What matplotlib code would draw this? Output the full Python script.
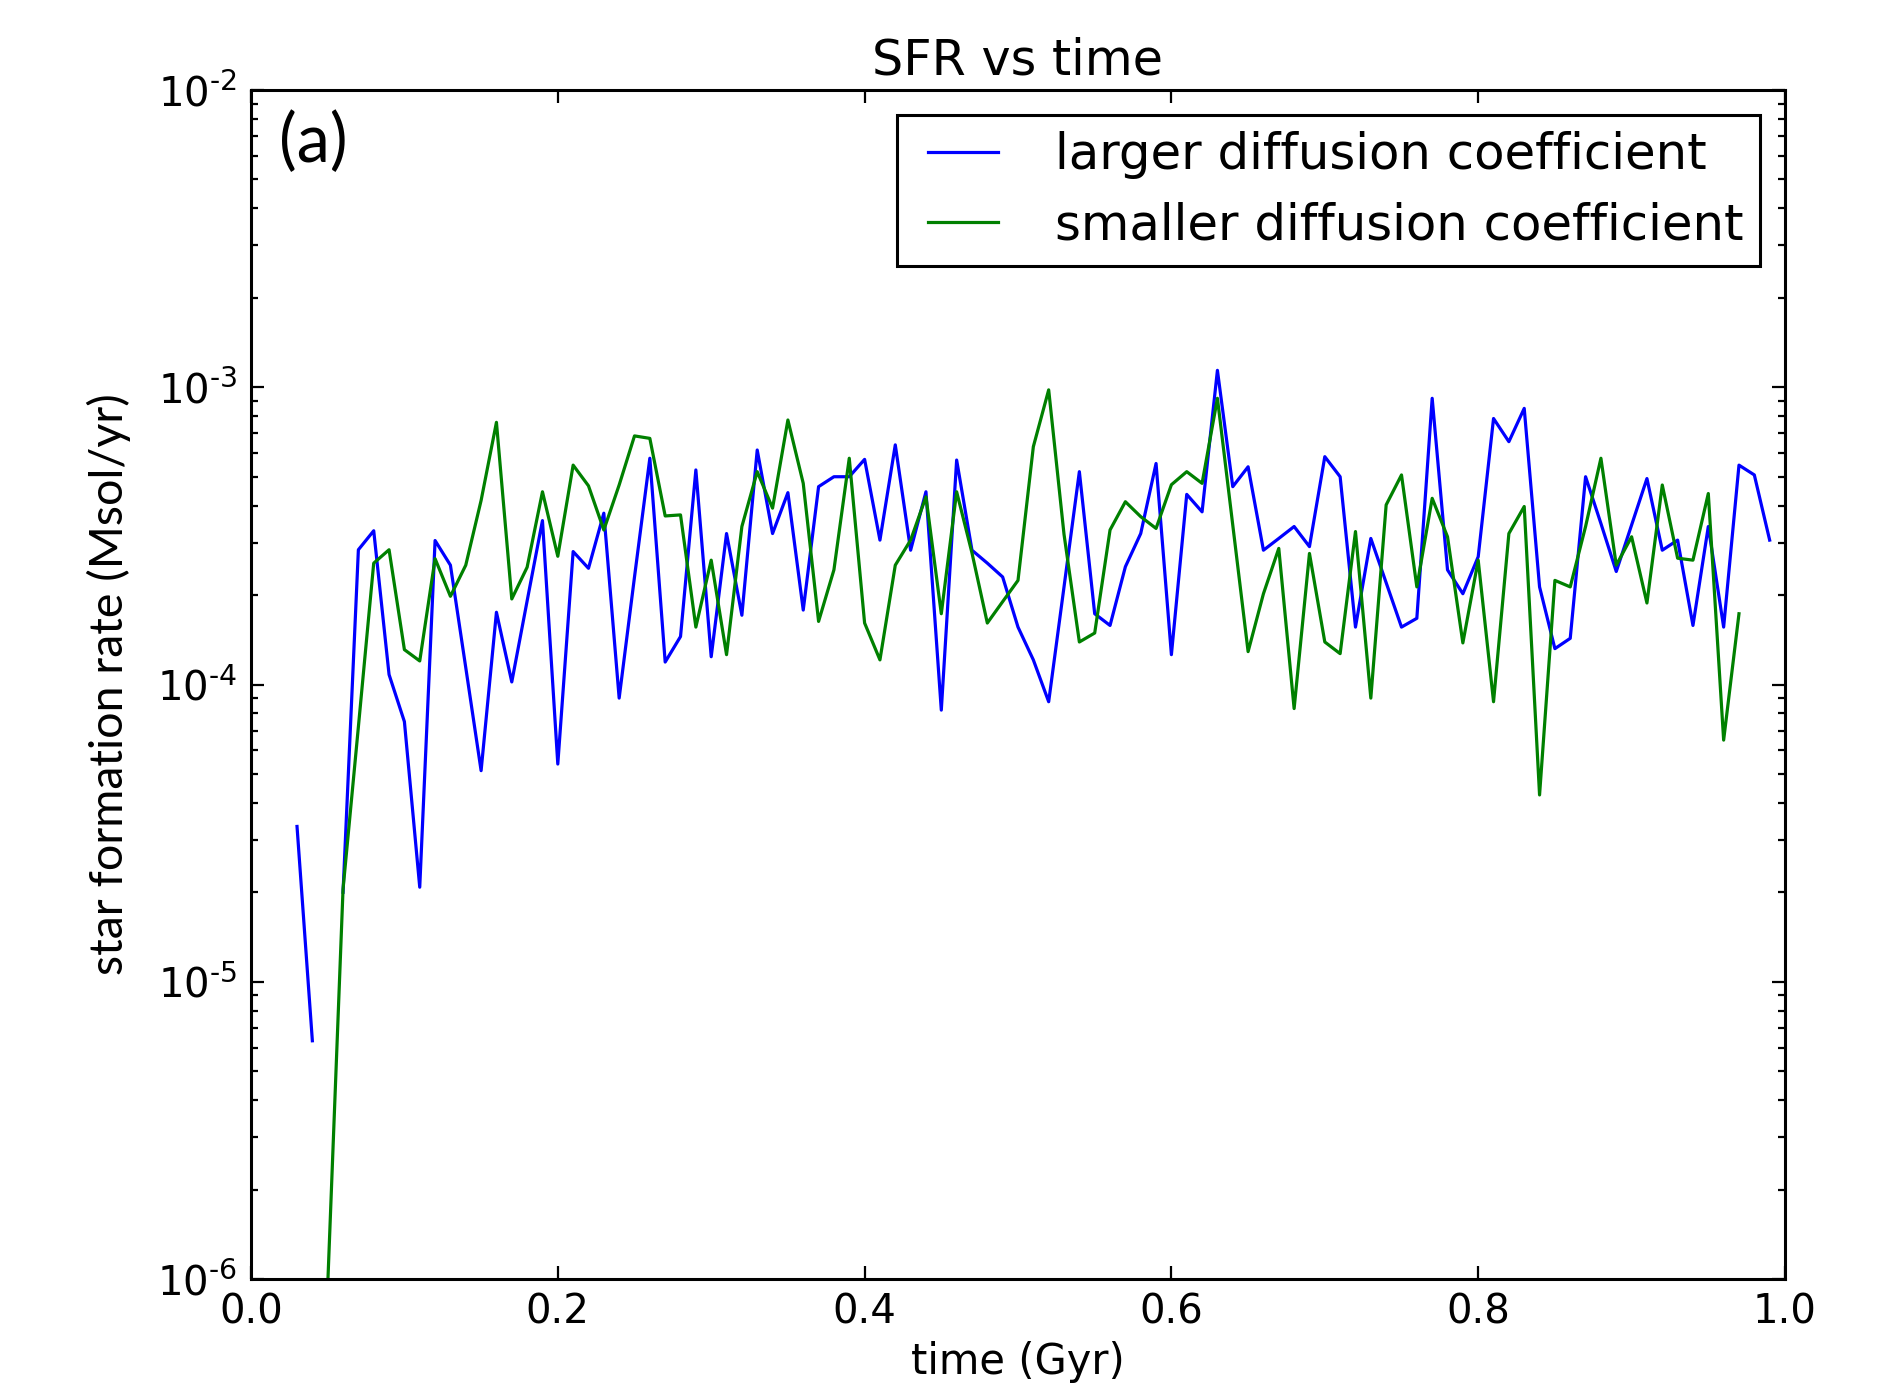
import numpy as np
import matplotlib
matplotlib.use("Agg")
import matplotlib.pyplot as plt
from matplotlib.ticker import FixedLocator, LogLocator, FuncFormatter, NullFormatter

# ---------------- data ----------------
time_larger = [0.03, 0.04, 0.05, 0.06, 0.07, 0.08, 0.09, 0.10, 0.11, 0.12,
               0.13, 0.14, 0.15, 0.16, 0.17, 0.18, 0.19, 0.20, 0.21, 0.22,
               0.23, 0.24, 0.25, 0.26, 0.27, 0.28, 0.29, 0.30, 0.31, 0.32,
               0.33, 0.34, 0.35, 0.36, 0.37, 0.38, 0.39, 0.40, 0.41, 0.42,
               0.43, 0.44, 0.45, 0.46, 0.47, 0.48, 0.49, 0.50, 0.51, 0.52,
               0.53, 0.54, 0.55, 0.56, 0.57, 0.58, 0.59, 0.60, 0.61, 0.62,
               0.63, 0.64, 0.65, 0.66, 0.67, 0.68, 0.69, 0.70, 0.71, 0.72,
               0.73, 0.74, 0.75, 0.76, 0.77, 0.78, 0.79, 0.80, 0.81, 0.82,
               0.83, 0.84, 0.85, 0.86, 0.87, 0.88, 0.89, 0.90, 0.91, 0.92,
               0.93, 0.94, 0.95, 0.96, 0.97, 0.98, 0.99]
sfr_larger = [3.33e-5, 6.33e-6, np.nan, 2.0e-5, 2.84e-4, 3.29e-4, 1.08e-4, 7.5e-5, 2.08e-5, 3.05e-4,
              2.52e-4, 1.14e-4, 5.13e-5, 1.75e-4, 1.02e-4, 1.91e-4, 3.56e-4, 5.4e-5, 2.80e-4, 2.46e-4,
              3.77e-4, 9.0e-5, 2.30e-4, 5.77e-4, 1.19e-4, 1.45e-4, 5.27e-4, 1.24e-4, 3.22e-4, 1.71e-4,
              6.15e-4, 3.22e-4, 4.42e-4, 1.78e-4, 4.63e-4, 5.00e-4, 5.00e-4, 5.72e-4, 3.06e-4, 6.40e-4,
              2.83e-4, 4.45e-4, 8.2e-5, 5.69e-4, 2.83e-4, 2.56e-4, 2.30e-4, 1.56e-4, 1.21e-4, 8.75e-5,
              2.13e-4, 5.20e-4, 1.73e-4, 1.58e-4, 2.49e-4, 3.22e-4, 5.54e-4, 1.26e-4, 4.36e-4, 3.81e-4,
              1.14e-3, 4.63e-4, 5.40e-4, 2.83e-4, 3.10e-4, 3.40e-4, 2.91e-4, 5.84e-4, 5.00e-4, 1.56e-4,
              3.10e-4, 2.20e-4, 1.56e-4, 1.67e-4, 9.18e-4, 2.43e-4, 2.02e-4, 2.69e-4, 7.85e-4, 6.56e-4,
              8.49e-4, 2.13e-4, 1.32e-4, 1.43e-4, 5.00e-4, 3.48e-4, 2.40e-4, 3.44e-4, 4.93e-4, 2.83e-4,
              3.06e-4, 1.58e-4, 3.40e-4, 1.56e-4, 5.47e-4, 5.07e-4, 3.06e-4]

time_smaller = [0.05, 0.06, 0.07, 0.08, 0.09, 0.10, 0.11, 0.12,
                0.13, 0.14, 0.15, 0.16, 0.17, 0.18, 0.19, 0.20, 0.21, 0.22,
                0.23, 0.24, 0.25, 0.26, 0.27, 0.28, 0.29, 0.30, 0.31, 0.32,
                0.33, 0.34, 0.35, 0.36, 0.37, 0.38, 0.39, 0.40, 0.41, 0.42,
                0.43, 0.44, 0.45, 0.46, 0.47, 0.48, 0.49, 0.50, 0.51, 0.52,
                0.53, 0.54, 0.55, 0.56, 0.57, 0.58, 0.59, 0.60, 0.61, 0.62,
                0.63, 0.64, 0.65, 0.66, 0.67, 0.68, 0.69, 0.70, 0.71, 0.72,
                0.73, 0.74, 0.75, 0.76, 0.77, 0.78, 0.79, 0.80, 0.81, 0.82,
                0.83, 0.84, 0.85, 0.86, 0.87, 0.88, 0.89, 0.90, 0.91, 0.92,
                0.93, 0.94, 0.95, 0.96, 0.97]
sfr_smaller = [9.5e-7, 2.05e-5, 7.2e-5, 2.56e-4, 2.84e-4, 1.31e-4, 1.20e-4, 2.65e-4,
               1.98e-4, 2.52e-4, 4.16e-4, 7.62e-4, 1.94e-4, 2.48e-4, 4.45e-4, 2.70e-4, 5.47e-4, 4.66e-4,
               3.31e-4, 4.69e-4, 6.86e-4, 6.73e-4, 3.69e-4, 3.72e-4, 1.56e-4, 2.62e-4, 1.26e-4, 3.40e-4,
               5.20e-4, 3.92e-4, 7.76e-4, 4.75e-4, 1.63e-4, 2.43e-4, 5.77e-4, 1.61e-4, 1.21e-4, 2.52e-4,
               3.06e-4, 4.28e-4, 1.73e-4, 4.45e-4, 2.77e-4, 1.61e-4, 1.90e-4, 2.24e-4, 6.31e-4, 9.80e-4,
               3.2e-4, 1.39e-4, 1.49e-4, 3.31e-4, 4.12e-4, 3.67e-4, 3.35e-4, 4.7e-4, 5.20e-4, 4.75e-4,
               9.18e-4, 3.44e-4, 1.29e-4, 2.02e-4, 2.87e-4, 8.3e-5, 2.76e-4, 1.39e-4, 1.27e-4, 3.27e-4,
               9.0e-5, 4.02e-4, 5.07e-4, 2.13e-4, 4.23e-4, 3.14e-4, 1.38e-4, 2.62e-4, 8.75e-5, 3.22e-4,
               3.97e-4, 4.25e-5, 2.24e-4, 2.13e-4, 3.40e-4, 5.77e-4, 2.52e-4, 3.14e-4, 1.88e-4, 4.69e-4,
               2.66e-4, 2.62e-4, 4.39e-4, 6.5e-5, 1.73e-4]

x_ticks = [0.0, 0.2, 0.4, 0.6, 0.8, 1.0]
x_tick_labels = ["0.0", "0.2", "0.4", "0.6", "0.8", "1.0"]
y_exponents = [-6, -5, -4, -3, -2]
series_labels = ["larger diffusion coefficient", "smaller diffusion coefficient"]

# ---------------- figure ----------------
plt.rcParams['font.family'] = ['DejaVu Sans']
plt.rcParams['axes.unicode_minus'] = False

W, H = 1881, 1389
fig = plt.figure(figsize=(W / 100, H / 100), dpi=100)
ax = fig.add_axes([251 / W, 1 - 1279 / H, (1785 - 251) / W, (1279 - 90) / H])

ax.plot(time_larger, sfr_larger, color=(0, 0, 1), lw=2.3, label=series_labels[0])
ax.plot(time_smaller, sfr_smaller, color=(0, 0.5, 0), lw=2.3, label=series_labels[1])

ax.set_yscale('log')
ax.set_xlim(0.0, 1.0)
ax.set_ylim(10.0 ** y_exponents[0], 10.0 ** y_exponents[-1])

ax.xaxis.set_major_locator(FixedLocator(x_ticks))
ax.set_xticklabels(x_tick_labels)
ax.yaxis.set_major_locator(FixedLocator([10.0 ** e for e in y_exponents]))
ax.yaxis.set_minor_locator(LogLocator(base=10, subs=np.arange(2, 10), numticks=20))
ax.yaxis.set_minor_formatter(NullFormatter())


def fmt(v, pos):
    e = int(round(np.log10(v)))
    return r'$\mathdefault{10^{\text{%d}}}$' % e


ax.yaxis.set_major_formatter(FuncFormatter(fmt))

ax.tick_params(which='both', direction='in', top=True, right=True, width=1.6)
ax.tick_params(which='major', length=9.5, labelsize=29, pad=10)
ax.tick_params(which='minor', length=5)
for s in ax.spines.values():
    s.set_linewidth(2.2)

ax.set_title("SFR vs time", fontsize=35.5, pad=11)
ax.set_xlabel("time (Gyr)", fontsize=30, labelpad=6)
ax.set_ylabel("star formation rate (Msol/yr)", fontsize=33.5, family=['Lato', 'DejaVu Sans'], labelpad=19)

leg = ax.legend(loc='upper right', fontsize=35.8, fancybox=False, framealpha=1,
                edgecolor='black', numpoints=2, handlelength=2.0, handletextpad=0.85,
                borderpad=0.33, labelspacing=0.45, borderaxespad=0.5)
leg.get_frame().set_linewidth(2.2)

ax.text(0.018, 0.982, "(a)", transform=ax.transAxes, fontsize=48,
        family=['Lato', 'DejaVu Sans'], va='top', ha='left')

fig.savefig("out.png", dpi=100)
